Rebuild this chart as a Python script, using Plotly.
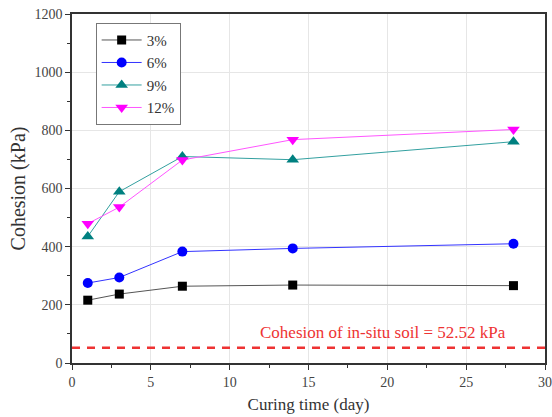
import plotly.graph_objects as go

days = [1, 3, 7, 14, 28]
series_names = ["3%", "6%", "9%", "12%"]
c3 = [216, 237, 264, 268, 266]
c6 = [275, 294, 383, 394, 410]
c9 = [435, 589, 710, 699, 761]
c12 = [479, 536, 698, 768, 803]
insitu = 52.52
x_range = [0, 30]
y_range = [0, 1200]

SERIF = "Liberation Serif"

colors = ["#000000", "#0000FF", "#008080", "#FF00FF"]
line_colors = ["#555555", "#3333FF", "#33A0A0", "#FF55FF"]
symbols = ["square", "circle", "triangle-up", "triangle-down"]
sizes = [9, 10, 11, 11]

fig = go.Figure()
for name, vals, c, lc, s, sz in zip(series_names, [c3, c6, c9, c12], colors, line_colors, symbols, sizes):
    fig.add_trace(go.Scatter(x=days, y=vals, name=name, mode="lines+markers",
                             line=dict(color=lc, width=1),
                             marker=dict(symbol=s, size=sz, color=c)))

fig.add_trace(go.Scatter(x=x_range, y=[insitu, insitu], mode="lines", showlegend=False,
                         line=dict(color="#EE3333", width=2.5, dash="8px,7px"), hoverinfo="skip"))

fig.add_annotation(x=19.7, y=106, xref="x", yref="y",
                   text="Cohesion of in-situ soil = 52.52 kPa", showarrow=False,
                   font=dict(family=SERIF, size=17, color="#EE3333"),
                   yanchor="middle", xanchor="center")

axis_common = dict(showline=True, linecolor="#333333", linewidth=1.5, mirror=True,
                   ticks="outside", ticklen=5, tickcolor="#333333", automargin=False,
                   showgrid=True, gridcolor="#E6E6E6", gridwidth=1, zeroline=False,
                   tickfont=dict(family=SERIF, size=14, color="#444444"))

fig.update_xaxes(range=x_range, dtick=5, title=dict(text="Curing time (day)", standoff=10,
                 font=dict(family=SERIF, size=17, color="#333333")),
                 minor=dict(ticks="outside", ticklen=3, dtick=2.5, tickcolor="#333333"),
                 **axis_common)
fig.update_yaxes(range=y_range, dtick=200, title=dict(text="Cohesion (kPa)", standoff=3,
                 font=dict(family=SERIF, size=20, color="#333333")),
                 minor=dict(ticks="outside", ticklen=3, dtick=100, tickcolor="#333333"),
                 **axis_common)

fig.update_layout(width=552, height=417, margin=dict(l=72, r=7, t=14, b=54),
                  font=dict(family=SERIF, color="#333333"),
                  plot_bgcolor="white", paper_bgcolor="white",
                  legend=dict(x=0.05, y=0.975, xanchor="left", yanchor="top",
                              bordercolor="#777777", borderwidth=1, bgcolor="white",
                              font=dict(family=SERIF, size=15, color="#333333"),
                              tracegroupgap=0, itemwidth=40))

fig.write_html("out.html")
